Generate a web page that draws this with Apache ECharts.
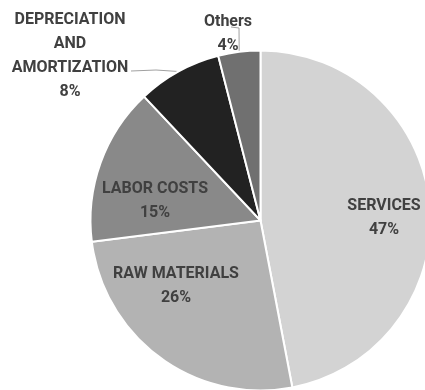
<!DOCTYPE html>
<html>
<head>
<meta charset="utf-8">
<style>
  html, body { margin: 0; padding: 0; background: #ffffff; }
  #chart { width: 425px; height: 390px; }
</style>
<script src="https://cdn.jsdelivr.net/npm/echarts@6/dist/echarts.min.js"></script>
</head>
<body>
<div id="chart"></div>
<script>
// Cost breakdown, share of total (%)
const categories = ['SERVICES', 'RAW MATERIALS', 'LABOR COSTS', 'DEPRECIATION\nAND\nAMORTIZATION', 'Others'];
const shares = [47, 26, 15, 8, 4];
const sliceColors = ['#d3d3d3', '#b3b3b3', '#898989', '#222222', '#707070'];

// Centre of each label block (px)
const labelSpots = [
  [384, 218], [176, 286], [155, 201], [70, 56], [228, 34]
];
const outsideLabel = [false, false, false, true, true];
// Leader-line bends for the outside labels: [elbow, end]
const leaderRoutes = {
  3: [[156, 70], [131, 71]],
  4: [[239, 28], [231, 27]]
};

const chart = echarts.init(document.getElementById('chart'));

const data = categories.map((name, i) => ({
  name: name,
  value: shares[i],
  itemStyle: { color: sliceColors[i] },
  label: { position: outsideLabel[i] ? 'outside' : 'inside' },
  labelLine: { show: outsideLabel[i] }
}));

chart.setOption({
  animation: false,
  series: [{
    type: 'pie',
    center: [260.5, 220.5],
    radius: [0, 170],
    startAngle: 90,
    clockwise: true,
    avoidLabelOverlap: false,
    itemStyle: { borderColor: '#ffffff', borderWidth: 2 },
    label: {
      show: true,
      formatter: p => p.name + '\n' + p.value + '%',
      fontFamily: 'Roboto, sans-serif',
      fontWeight: 'bold',
      fontSize: 16,
      lineHeight: 24,
      color: '#404040',
      align: 'center'
    },
    labelLine: {
      show: false,
      length: 12,
      length2: 10,
      lineStyle: { color: '#a0a0a0', width: 1 }
    },
    labelLayout: function (params) {
      const i = params.dataIndex;
      const s = labelSpots[i];
      const out = {
        x: s[0],
        y: s[1],
        align: 'center',
        verticalAlign: 'middle'
      };
      const route = leaderRoutes[i];
      if (route && params.labelLinePoints) {
        out.labelLinePoints = [params.labelLinePoints[0], route[0], route[1]];
      }
      return out;
    },
    data: data
  }]
});
</script>
</body>
</html>
